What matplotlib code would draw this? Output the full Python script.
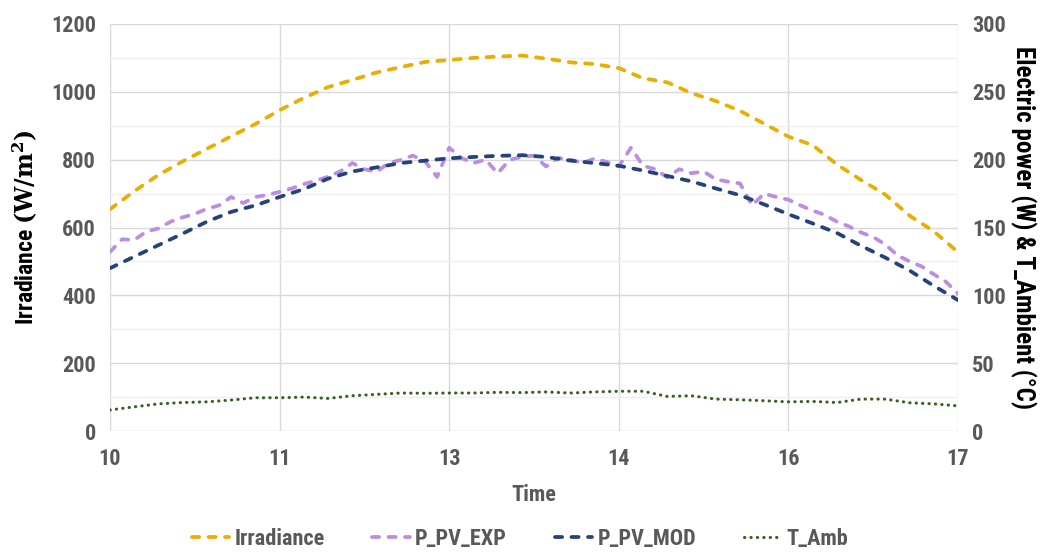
import numpy as np
import matplotlib
matplotlib.use("Agg")
import matplotlib.pyplot as plt
from matplotlib.ticker import MultipleLocator

plt.rcParams['font.family'] = ['Roboto Condensed', 'DejaVu Sans']
plt.rcParams['mathtext.fontset'] = 'dejavuserif'

# Sample times (hours), 12-minute steps for the smooth series
t_coarse = np.round(np.arange(10.0, 17.0001, 0.2), 2)
# 6-minute steps for the measured PV power
t_fine = np.round(np.arange(10.0, 17.0001, 0.1), 2)

irradiance = [654, 707, 755, 795, 832, 869, 905, 946, 982, 1014, 1035, 1057,
              1073, 1088, 1094, 1100, 1104, 1107, 1098, 1087, 1082, 1070, 1040,
              1028, 996, 973, 944, 906, 868, 843, 786, 740, 697, 635, 589, 527]

p_pv_mod = [120.0, 128.5, 137.0, 145.5, 154.3, 161.5, 166.3, 172.5, 178.3,
            186.0, 191.3, 194.3, 197.5, 199.3, 201.0, 202.0, 202.8, 203.3,
            202.0, 199.3, 197.5, 195.5, 192.0, 188.0, 184.0, 178.8, 173.8,
            167.0, 159.8, 153.0, 146.0, 136.5, 127.8, 118.3, 107.0, 96.5]

p_pv_exp = [132.0, 141.3, 140.8, 147.0, 149.3, 154.3, 157.5, 160.0, 163.8,
            166.3, 172.5, 168.0, 172.5, 174.0, 176.3, 178.8, 182.0, 184.5,
            187.5, 191.3, 197.5, 193.0, 191.0, 197.5, 199.8, 203.0, 198.8,
            187.3, 208.8, 201.3, 197.5, 200.0, 190.0, 200.0, 202.0, 203.0,
            195.0, 201.3, 200.0, 197.5, 200.8, 198.3, 195.0, 208.8, 195.5,
            193.0, 187.0, 193.0, 190.0, 191.3, 185.5, 183.8, 182.5, 166.3,
            175.0, 172.5, 170.5, 166.3, 162.5, 159.3, 154.3, 150.8, 146.3,
            143.0, 137.5, 129.5, 125.0, 121.3, 115.5, 110.0, 101.3]

t_amb = [15.5, 17.8, 20.0, 21.0, 21.5, 22.8, 24.5, 24.5, 25.0, 24.0, 26.0,
         27.0, 28.0, 27.8, 28.0, 28.0, 28.5, 28.3, 28.8, 28.0, 28.8, 29.3,
         29.3, 25.5, 26.0, 23.5, 23.0, 22.3, 21.5, 21.8, 21.0, 23.5, 23.5,
         20.8, 20.0, 18.5]

tick_labels = ['10', '11', '13', '14', '16', '17']
tick_pos = np.linspace(10, 17, len(tick_labels))

c_irr = '#E8AE00'
c_exp = '#BC8DE0'
c_mod = '#24437A'
c_amb = '#375F1E'
c_grid_major = '#D9D9D9'
c_grid_minor = '#EFEFEF'
c_text = '#595959'

fig = plt.figure(figsize=(10.46, 5.54), dpi=100)
ax = fig.add_axes([110 / 1046, 1 - 431 / 554, 848 / 1046, 407 / 554])
ax2 = ax.twinx()

ax.set_xlim(10, 17)
ax.set_ylim(0, 1200)
ax2.set_ylim(0, 300)

ax.yaxis.set_major_locator(MultipleLocator(200))
ax.yaxis.set_minor_locator(MultipleLocator(100))
ax2.yaxis.set_major_locator(MultipleLocator(50))
ax.set_xticks(tick_pos)
ax.set_xticklabels(tick_labels)

ax.grid(which='major', axis='both', color=c_grid_major, lw=1.0)
ax.grid(which='minor', axis='y', color=c_grid_minor, lw=1.0)
ax.set_axisbelow(True)

for a in (ax, ax2):
    for s in a.spines.values():
        s.set_visible(False)
    a.tick_params(which='both', length=0, labelsize=16, labelcolor=c_text)
    for lab in a.get_yticklabels() + a.get_xticklabels():
        lab.set_fontweight('bold')
ax.tick_params(axis='x', pad=12)
ax.tick_params(axis='y', pad=10)
ax2.tick_params(axis='y', pad=10)

dash = (1.9, 2.5)
lw = 2.7
l_irr, = ax.plot(t_coarse, irradiance, color=c_irr, lw=lw, dashes=dash,
                 dash_capstyle='round', label='Irradiance')
l_exp, = ax2.plot(t_fine, p_pv_exp, color=c_exp, lw=lw, dashes=dash,
                  dash_capstyle='round', label='P_PV_EXP')
l_mod, = ax2.plot(t_coarse, p_pv_mod, color=c_mod, lw=lw, dashes=dash,
                  dash_capstyle='round', label='P_PV_MOD')
l_amb, = ax2.plot(t_coarse, t_amb, color=c_amb, lw=2.2, dashes=(0.1, 2.0),
                  dash_capstyle='round', label='T_Amb')

ax.set_ylabel(r'Irradiance $\mathbf{(W/m^2)}$', fontsize=17,
              fontweight='bold', color='black', labelpad=8)
ax2.set_ylabel('Electric power (W) & T_Ambient (°C)', fontsize=18,
               fontweight='bold', color='black', rotation=270, labelpad=22)
ax.set_xlabel('Time', fontsize=16, fontweight='bold', color=c_text, labelpad=10)

leg = fig.legend(handles=[l_irr, l_exp, l_mod, l_amb], loc='lower center',
                 bbox_to_anchor=(0.497, -0.028), ncol=4, frameon=False,
                 handlelength=1.7, handletextpad=0.22, columnspacing=2.15,
                 prop={'size': 16, 'weight': 'bold'})
for txt in leg.get_texts():
    txt.set_color(c_text)

fig.savefig('out.png', dpi=100)
